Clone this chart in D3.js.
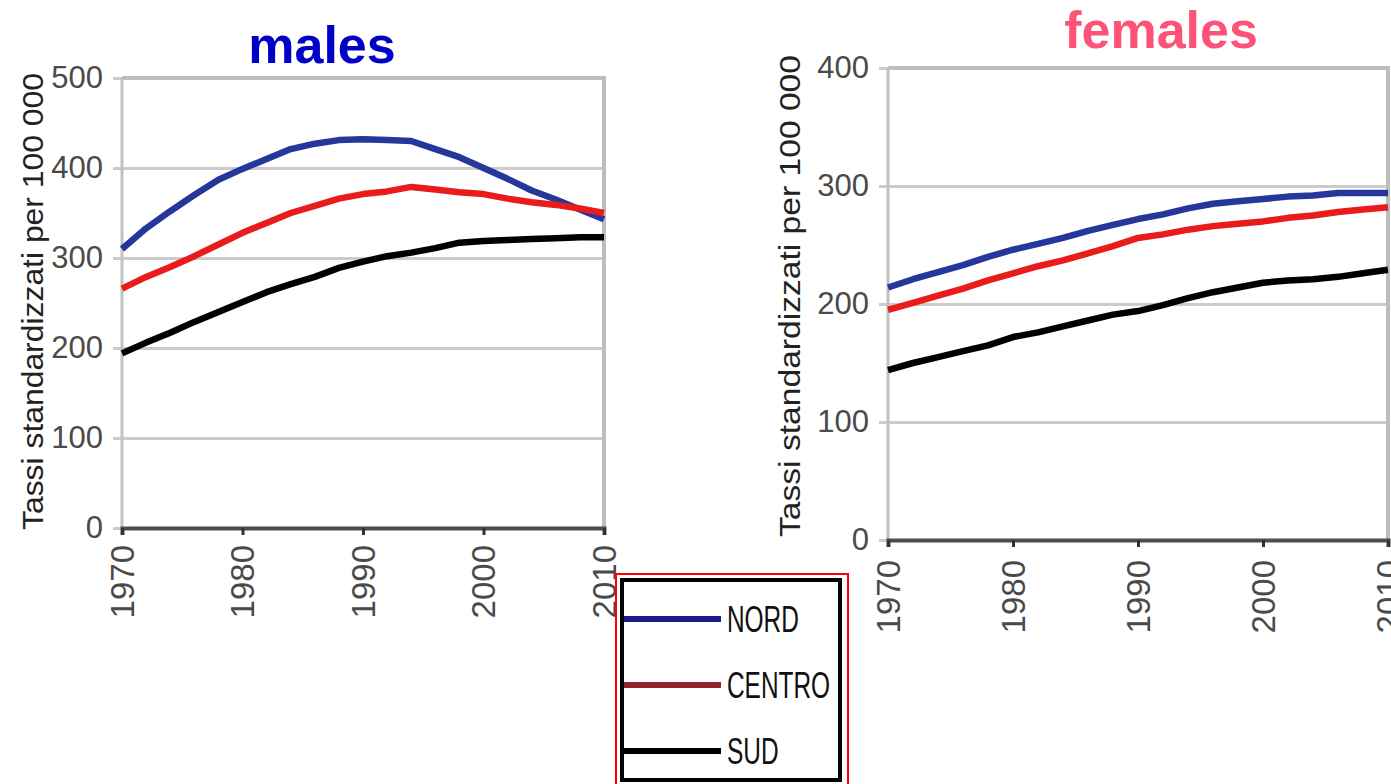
<!DOCTYPE html>
<html>
<head>
<meta charset="utf-8">
<script src="https://cdn.jsdelivr.net/npm/d3@7"></script>
<style>
  body { margin: 0; background: #fff; }
  svg { display: block; font-family: "Liberation Sans", Arial, sans-serif; }
</style>
</head>
<body>
<div id="chart"></div>
<script>
// ── Data (every 2 years) ─────────────────────────────────────────
const YEARS = [1970, 1972, 1974, 1976, 1978, 1980, 1982, 1984, 1986, 1988, 1990,
               1992, 1994, 1996, 1998, 2000, 2002, 2004, 2006, 2008, 2010];

const MALES_NORD   = [310, 333, 352, 370, 387, 399, 410, 421, 427, 431, 432,
                      431, 430, 421, 412, 400, 388, 375, 365, 354, 343];
const MALES_CENTRO = [266, 279, 290, 302, 315, 328, 339, 350, 358, 366, 371,
                      374, 379, 376, 373, 371, 366, 362, 359, 355, 350];
const MALES_SUD    = [194, 206, 217, 229, 240, 251, 262, 271, 279, 289, 296,
                      302, 306, 311, 317, 319, 320, 321, 322, 323, 323];

const FEMALES_NORD   = [214, 221, 227, 233, 240, 246, 251, 256, 262, 267, 272,
                        276, 281, 285, 287, 289, 291, 292, 294, 294, 294];
const FEMALES_CENTRO = [195, 201, 207, 213, 220, 226, 232, 237, 243, 249, 256,
                        259, 263, 266, 268, 270, 273, 275, 278, 280, 282];
const FEMALES_SUD    = [144, 150, 155, 160, 165, 172, 176, 181, 186, 191, 194,
                        199, 205, 210, 214, 218, 220, 221, 223, 226, 229];

const REGIONS = ["NORD", "CENTRO", "SUD"];
const X_TICKS = [1970, 1980, 1990, 2000, 2010];
const MALES_Y_TICKS = [0, 100, 200, 300, 400, 500];
const FEMALES_Y_TICKS = [0, 100, 200, 300, 400];
const Y_TITLE = "Tassi standardizzati per 100 000";

// chart line colours and (darker) legend colours
const LINE_COLORS = { NORD: "#26379c", CENTRO: "#ea1b1b", SUD: "#000000" };
const LEGEND_COLORS = { NORD: "#1b1b8f", CENTRO: "#8e2428", SUD: "#000000" };

const W = 1391, H = 784;

const svg = d3.select("#chart").append("svg")
    .attr("width", W)
    .attr("height", H);

// ── One panel ─────────────────────────────────────────────────────
function drawPanel(p) {
    const x = d3.scaleLinear().domain([1970, 2010]).range([p.left, p.right]);
    const y = d3.scaleLinear().domain([0, p.yMax]).range([p.bottom, p.top]);
    const g = svg.append("g");

    // gridlines (with small stubs left of the axis)
    g.append("g")
        .attr("transform", `translate(${p.left - 9},0)`)
        .call(d3.axisRight(y).tickValues(p.yTicks).tickSize(p.right - p.left + 9).tickFormat(""))
        .call(a => a.select(".domain").remove())
        .call(a => a.selectAll("line").attr("stroke", "#cbcbcb").attr("stroke-width", 3));

    // top + right frame
    g.append("path")
        .attr("d", `M${p.left},${y(p.yMax)}H${p.right}V${p.bottom}`)
        .attr("fill", "none")
        .attr("stroke", "#bdbdbd")
        .attr("stroke-width", 4);

    // left axis line
    g.append("line")
        .attr("x1", p.left).attr("x2", p.left)
        .attr("y1", p.top).attr("y2", p.bottom)
        .attr("stroke", "#c2c2c2")
        .attr("stroke-width", 3);

    // y tick labels
    g.append("g")
        .attr("transform", `translate(${p.left},0)`)
        .call(d3.axisLeft(y).tickValues(p.yTicks).tickSize(0).tickPadding(19))
        .call(a => a.select(".domain").remove())
        .call(a => a.selectAll("text")
            .attr("fill", "#4a4a4a")
            .style("font-size", "31px"));

    // bottom axis
    const xa = g.append("g")
        .attr("transform", `translate(0,${p.bottom})`)
        .call(d3.axisBottom(x).tickValues(X_TICKS).tickSize(7).tickFormat(""));
    xa.select(".domain").attr("stroke", "#4d4d4d").attr("stroke-width", 4);
    xa.selectAll("line").attr("stroke", "#333").attr("stroke-width", 3);

    g.selectAll(".xlab")
        .data(X_TICKS)
        .join("text")
        .attr("class", "xlab")
        .attr("transform", d => `translate(${x(d)},${p.bottom + p.xLabGap}) rotate(-90)`)
        .attr("text-anchor", "end")
        .attr("dy", "0.36em")
        .attr("fill", "#4a4a4a")
        .style("font-size", "33px")
        .text(d => d);

    // series
    const line = d3.line()
        .x((d, i) => x(YEARS[i]))
        .y(d => y(d));
    REGIONS.forEach(function (r) {
        g.append("path")
            .datum(p.series[r])
            .attr("d", line)
            .attr("fill", "none")
            .attr("stroke", LINE_COLORS[r])
            .attr("stroke-width", 6.5)
            .attr("stroke-linejoin", "round");
    });

    // y title
    g.append("text")
        .attr("transform", `translate(${p.yTitleX},${(p.yTitleTop + p.yTitleBottom) / 2}) rotate(-90)`)
        .attr("text-anchor", "middle")
        .attr("dy", "0.35em")
        .attr("fill", "#222")
        .attr("textLength", p.yTitleBottom - p.yTitleTop)
        .attr("lengthAdjust", "spacingAndGlyphs")
        .style("font-size", "30px")
        .text(Y_TITLE);

    // panel title
    g.append("text")
        .attr("x", p.titleX)
        .attr("y", p.titleY)
        .attr("text-anchor", "middle")
        .attr("fill", p.titleColor)
        .style("font-size", "52px")
        .style("font-weight", "bold")
        .text(p.title);
}

drawPanel({
    title: "males", titleColor: "#0000c6", titleX: 322, titleY: 63,
    left: 122, right: 604, top: 78, bottom: 528, yMax: 500,
    yTicks: MALES_Y_TICKS, xLabGap: 17,
    yTitleX: 32, yTitleTop: 73, yTitleBottom: 530,
    series: { NORD: MALES_NORD, CENTRO: MALES_CENTRO, SUD: MALES_SUD }
});

drawPanel({
    title: "females", titleColor: "#fd5379", titleX: 1161, titleY: 48,
    left: 888, right: 1388, top: 68, bottom: 540, yMax: 400,
    yTicks: FEMALES_Y_TICKS, xLabGap: 20,
    yTitleX: 789, yTitleTop: 55, yTitleBottom: 537,
    series: { NORD: FEMALES_NORD, CENTRO: FEMALES_CENTRO, SUD: FEMALES_SUD }
});

// ── Legend ───────────────────────────────────────────────────────
const lg = svg.append("g");
lg.append("rect")
    .attr("x", 616).attr("y", 574).attr("width", 232).attr("height", 215)
    .attr("fill", "#fff").attr("stroke", "#ff0000").attr("stroke-width", 2);
lg.append("rect")
    .attr("x", 622).attr("y", 580).attr("width", 218).attr("height", 200)
    .attr("fill", "none").attr("stroke", "#000").attr("stroke-width", 4);

const legendY = d3.scalePoint().domain(REGIONS).range([619, 751]);
REGIONS.forEach(function (r) {
    lg.append("line")
        .attr("x1", 624).attr("x2", 721)
        .attr("y1", legendY(r)).attr("y2", legendY(r))
        .attr("stroke", LEGEND_COLORS[r])
        .attr("stroke-width", 6);
    lg.append("text")
        .attr("transform", `translate(727,${legendY(r)}) scale(0.66,1)`)
        .attr("dy", "0.36em")
        .attr("fill", "#111")
        .style("font-size", "37px")
        .text(r);
});
</script>
</body>
</html>
